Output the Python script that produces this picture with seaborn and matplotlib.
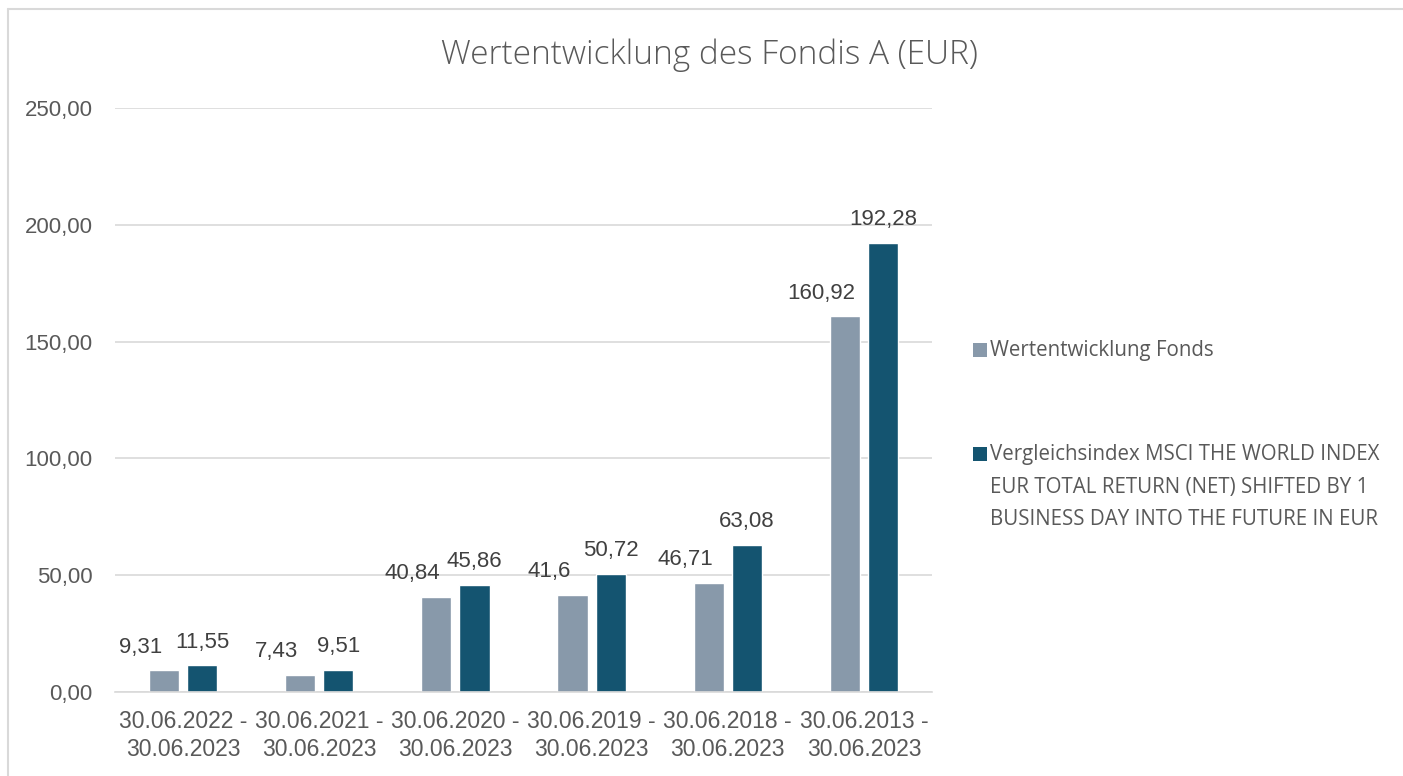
import matplotlib
matplotlib.use('Agg')
import pandas as pd
import seaborn as sns
import matplotlib.pyplot as plt
from matplotlib.lines import Line2D
from matplotlib.patches import Rectangle

# Daten aus dem Bild
zeitraeume = ['30.06.2022 -\n30.06.2023', '30.06.2021 -\n30.06.2023', '30.06.2020 -\n30.06.2023',
              '30.06.2019 -\n30.06.2023', '30.06.2018 -\n30.06.2023', '30.06.2013 -\n30.06.2023']
fonds = [9.31, 7.43, 40.84, 41.6, 46.71, 160.92]
index = [11.55, 9.51, 45.86, 50.72, 63.08, 192.28]
serien = ['Wertentwicklung Fonds',
          'Vergleichsindex MSCI THE WORLD INDEX\nEUR TOTAL RETURN (NET) SHIFTED BY 1\nBUSINESS DAY INTO THE FUTURE IN EUR']
farben = ['#8899aa', '#145470']

df = pd.DataFrame({
    'Zeitraum': zeitraeume * 2,
    'Wert': fonds + index,
    'Serie': [serien[0]] * len(fonds) + [serien[1]] * len(index),
})

sns.set_style('white')
plt.rcParams['font.family'] = ['Liberation Sans', 'DejaVu Sans']

fig = plt.figure(figsize=(14.03, 7.76), dpi=100)
ax = fig.add_axes([115 / 1403, 1 - 692 / 776, (932 - 115) / 1403, (692 - 108) / 776])

sns.barplot(data=df, x='Zeitraum', y='Wert', hue='Serie', palette=farben,
            width=0.56, gap=0.21, ax=ax, legend=False, saturation=1)

ax.set_ylim(0, 250)
ax.set_xlim(-0.5, len(zeitraeume) - 0.5)
ax.set_yticks([0, 50, 100, 150, 200, 250])
ax.set_yticklabels(['0,00', '50,00', '100,00', '150,00', '200,00', '250,00'])
ax.yaxis.grid(True, color='#d9d9d9', lw=1.2)
ax.set_axisbelow(True)
ax.set_xlabel('')
ax.set_ylabel('')
for s in ['top', 'right', 'left']:
    ax.spines[s].set_visible(False)
ax.spines['bottom'].set_color('#d9d9d9')
ax.spines['bottom'].set_linewidth(1.2)
ax.tick_params(axis='y', length=0, labelsize=16, labelcolor='#595959', pad=16)
ax.tick_params(axis='x', length=0, labelsize=16.5, labelcolor='#595959', pad=13)
for t in ax.get_xticklabels():
    t.set_linespacing(1.3)
ax.set_xticks([i - 0.5 for i in range(len(zeitraeume) + 1)], minor=True)
ax.tick_params(axis='x', which='minor', length=8, color='#d9d9d9', width=1.2)

# Datenbeschriftungen (Fonds-Werte etwas nach links versetzt wie im Original)
x_versatz = [-17, 0]
for cont, dx in zip(ax.containers, x_versatz):
    for b in cont:
        ax.annotate(f'{b.get_height():g}'.replace('.', ','),
                    (b.get_x() + b.get_width() / 2, b.get_height()),
                    xytext=(dx, 9), textcoords='offset points', ha='center', va='bottom',
                    fontsize=16, color='#404040')

fig.text(709 / 1403, 1 - 55 / 776, 'Wertentwicklung des Fondis A (EUR)', ha='center', va='center',
         fontsize=24, color='#595959', family=['Open Sans', 'DejaVu Sans'], fontweight='light')

# Legende
leg_y = [350, 454]
for farbe, text, y in zip(farben, serien, leg_y):
    fig.add_artist(Rectangle((973 / 1403, 1 - (y + 7) / 776), 14 / 1403, 14 / 776,
                             transform=fig.transFigure, facecolor=farbe, edgecolor='none'))
    fig.text(990 / 1403, 1 - (y - 10) / 776, text, ha='left', va='top', fontsize=14.8,
             color='#595959', family=['Open Sans', 'DejaVu Sans'], linespacing=1.72)

# Rahmen
fig.add_artist(Line2D([8 / 1403, 8 / 1403], [0, 1 - 9 / 776], color='#d9d9d9', lw=1.5))
fig.add_artist(Line2D([8 / 1403, 1], [1 - 9 / 776, 1 - 9 / 776], color='#d9d9d9', lw=1.5))

fig.savefig('out.png', dpi=100)
